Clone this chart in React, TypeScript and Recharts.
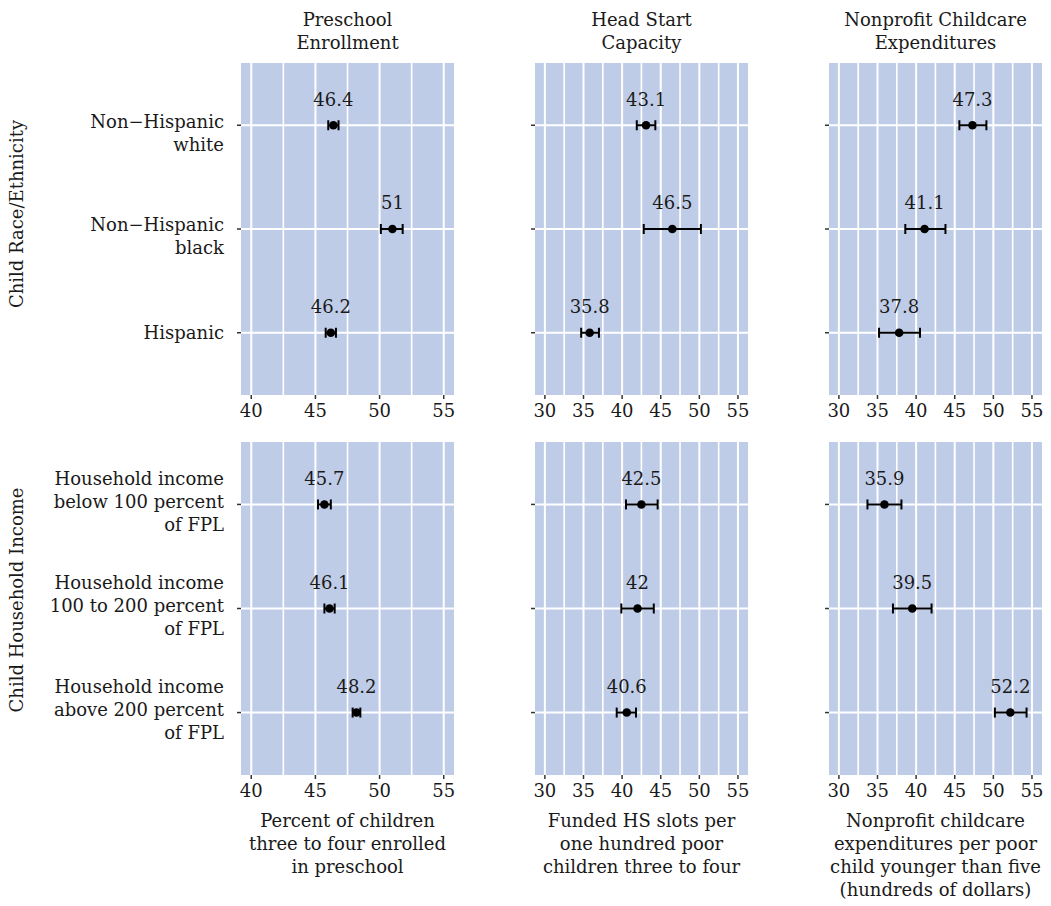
import { ScatterChart, Scatter, XAxis, YAxis, ErrorBar, ReferenceLine, ReferenceArea } from 'recharts';

// categories
const RACE_CATS = ['Non−Hispanic\nwhite', 'Non−Hispanic\nblack', 'Hispanic'];
const INCOME_CATS = [
  'Household income\nbelow 100 percent\nof FPL',
  'Household income\n100 to 200 percent\nof FPL',
  'Household income\nabove 200 percent\nof FPL',
];

// preschool enrollment (%)
const PRE_RACE = [46.4, 51, 46.2];
const PRE_RACE_LO = [46.0, 50.1, 45.8];
const PRE_RACE_HI = [46.8, 51.8, 46.6];
const PRE_INC = [45.7, 46.1, 48.2];
const PRE_INC_LO = [45.2, 45.7, 47.9];
const PRE_INC_HI = [46.2, 46.5, 48.5];

// head start slots per 100 poor children
const HS_RACE = [43.1, 46.5, 35.8];
const HS_RACE_LO = [41.9, 42.8, 34.7];
const HS_RACE_HI = [44.3, 50.2, 37.0];
const HS_INC = [42.5, 42, 40.6];
const HS_INC_LO = [40.5, 39.9, 39.3];
const HS_INC_HI = [44.6, 44.1, 41.8];

// nonprofit childcare expenditures (hundreds of $)
const NP_RACE = [47.3, 41.1, 37.8];
const NP_RACE_LO = [45.6, 38.6, 35.2];
const NP_RACE_HI = [49.1, 43.8, 40.5];
const NP_INC = [35.9, 39.5, 52.2];
const NP_INC_LO = [33.7, 37.0, 50.2];
const NP_INC_HI = [38.1, 42.0, 54.3];

// axes
const PRE_TICKS = [40, 45, 50, 55];
const PRE_MINOR = [42.5, 47.5, 52.5];
const PRE_DOMAIN = [39.2, 55.8];
const WIDE_TICKS = [30, 35, 40, 45, 50, 55];
const WIDE_MINOR = [32.5, 37.5, 42.5, 47.5, 52.5];
const WIDE_DOMAIN = [28.72, 56.3];
const CAT_POS = [1, 2, 3];
const CAT_DOMAIN = [0.4, 3.6];

const COL_TITLES = [
  ['Preschool', 'Enrollment'],
  ['Head Start', 'Capacity'],
  ['Nonprofit Childcare', 'Expenditures'],
];
const AXIS_TITLES = [
  ['Percent of children', 'three to four enrolled', 'in preschool'],
  ['Funded HS slots per', 'one hundred poor', 'children three to four'],
  ['Nonprofit childcare', 'expenditures per poor', 'child younger than five', '(hundreds of dollars)'],
];
const ROW_TITLES = ['Child Race/Ethnicity', 'Child Household Income'];

const BG = '#bfcce7';
const INK = '#1a1a1a';
const FONT = '"DejaVu Serif", serif';
const FS = 18;

const COL_LEFT = [241, 535, 829];
const PLOT_W = 213;
const ROW_TOP = [63, 442];
const PLOT_H = [332, 333];

function CatTick(props: any) {
  const { x, y, payload, cats } = props;
  const lines: string[] = cats[payload.value - 1].split('\n');
  const first = lines.length === 1 ? 0 : lines.length === 2 ? -4 : -26;
  return (
    <text x={x} y={y} textAnchor="end" fill={INK} fontSize={FS} fontFamily={FONT}>
      {lines.map((l, i) => (
        <tspan key={i} x={x} y={y + first + i * 23} dy="0.35em">{l}</tspan>
      ))}
    </text>
  );
}

function Dot(props: any) {
  const { cx, cy, payload } = props;
  return (
    <g>
      <circle cx={cx} cy={cy} r={4.3} fill="#000" />
      <text x={cx} y={cy - 26} dy="0.35em" textAnchor="middle" fill={INK} fontSize={FS} fontFamily={FONT}>
        {payload.label}
      </text>
    </g>
  );
}

interface PanelProps {
  left: number;
  top: number;
  height: number;
  cats: string[];
  vals: number[];
  lo: number[];
  hi: number[];
  domain: number[];
  ticks: number[];
  minor: number[];
  showCats: boolean;
}

function Panel({ left, top, height, cats, vals, lo, hi, domain, ticks, minor, showCats }: PanelProps) {
  const yw = showCats ? 230 : 20;
  const data = vals.map((v, i) => ({
    x: v,
    y: CAT_POS[i],
    err: [v - lo[i], hi[i] - v],
    label: String(v),
  }));
  return (
    <div style={{ position: 'absolute', left: left - yw, top: top - 10 }}>
      <ScatterChart
        width={yw + PLOT_W + 10}
        height={10 + height + 30}
        margin={{ top: 10, right: 10, bottom: 0, left: 0 }}
      >
        <XAxis
          type="number"
          dataKey="x"
          domain={domain}
          ticks={ticks}
          allowDataOverflow
          interval={0}
          height={30}
          axisLine={false}
          tickSize={4}
          tickMargin={5}
          tickLine={{ stroke: '#333', strokeWidth: 1.5 }}
          tick={{ fill: INK, fontSize: FS, fontFamily: FONT }}
        />
        <YAxis
          type="number"
          dataKey="y"
          domain={CAT_DOMAIN}
          ticks={CAT_POS}
          reversed
          allowDataOverflow
          interval={0}
          width={yw}
          axisLine={false}
          tickSize={4}
          tickMargin={13}
          tickLine={{ stroke: '#333', strokeWidth: 1.5 }}
          tick={showCats ? <CatTick cats={cats} /> : () => <g />}
        />
        <ReferenceArea
          x1={domain[0]}
          x2={domain[1]}
          y1={CAT_DOMAIN[0]}
          y2={CAT_DOMAIN[1]}
          fill={BG}
          fillOpacity={1}
          stroke="none"
          ifOverflow="hidden"
        />
        {minor.map((g) => (
          <ReferenceLine key={'m' + g} x={g} stroke="#fff" strokeWidth={1.6} />
        ))}
        {ticks.map((g) => (
          <ReferenceLine key={'t' + g} x={g} stroke="#fff" strokeWidth={2} />
        ))}
        {CAT_POS.map((c) => (
          <ReferenceLine key={'c' + c} y={c} stroke="#fff" strokeWidth={2} />
        ))}
        <Scatter data={data} shape={<Dot />} isAnimationActive={false}>
          <ErrorBar dataKey="err" direction="x" width={5} stroke="#000" strokeWidth={2} />
        </Scatter>
      </ScatterChart>
    </div>
  );
}

export default function App() {
  const cols = [
    {
      domain: PRE_DOMAIN, ticks: PRE_TICKS, minor: PRE_MINOR,
      rows: [
        { vals: PRE_RACE, lo: PRE_RACE_LO, hi: PRE_RACE_HI },
        { vals: PRE_INC, lo: PRE_INC_LO, hi: PRE_INC_HI },
      ],
    },
    {
      domain: WIDE_DOMAIN, ticks: WIDE_TICKS, minor: WIDE_MINOR,
      rows: [
        { vals: HS_RACE, lo: HS_RACE_LO, hi: HS_RACE_HI },
        { vals: HS_INC, lo: HS_INC_LO, hi: HS_INC_HI },
      ],
    },
    {
      domain: WIDE_DOMAIN, ticks: WIDE_TICKS, minor: WIDE_MINOR,
      rows: [
        { vals: NP_RACE, lo: NP_RACE_LO, hi: NP_RACE_HI },
        { vals: NP_INC, lo: NP_INC_LO, hi: NP_INC_HI },
      ],
    },
  ];
  const rowCats = [RACE_CATS, INCOME_CATS];

  return (
    <div style={{ position: 'absolute', left: 0, top: 0, width: 1051, height: 906, background: '#fff', fontFamily: FONT }}>
      {cols.map((c, ci) =>
        c.rows.map((r, ri) => (
          <Panel
            key={ci + '-' + ri}
            left={COL_LEFT[ci]}
            top={ROW_TOP[ri]}
            height={PLOT_H[ri]}
            cats={rowCats[ri]}
            vals={r.vals}
            lo={r.lo}
            hi={r.hi}
            domain={c.domain}
            ticks={c.ticks}
            minor={c.minor}
            showCats={ci === 0}
          />
        ))
      )}
      <svg width={1051} height={906} style={{ position: 'absolute', left: 0, top: 0, pointerEvents: 'none' }}>
        {COL_TITLES.map((lines, ci) =>
          lines.map((l, li) => (
            <text key={'ct' + ci + li} x={COL_LEFT[ci] + PLOT_W / 2} y={20 + li * 23} dy="0.35em"
              textAnchor="middle" fill={INK} fontSize={FS} fontFamily={FONT}>{l}</text>
          ))
        )}
        {AXIS_TITLES.map((lines, ci) =>
          lines.map((l, li) => (
            <text key={'at' + ci + li} x={COL_LEFT[ci] + PLOT_W / 2} y={821 + li * 23} dy="0.35em"
              textAnchor="middle" fill={INK} fontSize={FS} fontFamily={FONT}>{l}</text>
          ))
        )}
        {ROW_TITLES.map((t, ri) => {
          const cy = ri === 0 ? 214 : 600;
          return (
            <text key={'rt' + ri} x={17} y={cy} dy="0.35em" transform={`rotate(-90 17 ${cy})`}
              textAnchor="middle" fill={INK} fontSize={FS} fontFamily={FONT}>{t}</text>
          );
        })}
      </svg>
    </div>
  );
}
